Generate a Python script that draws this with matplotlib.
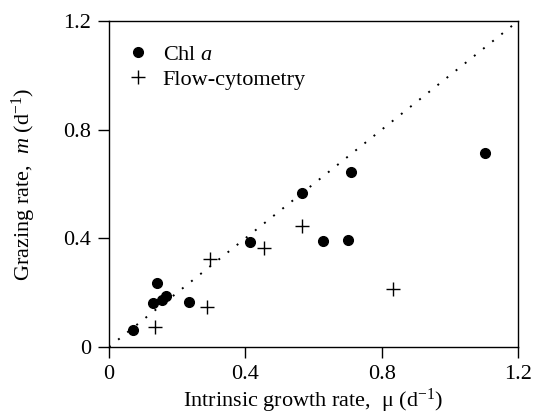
import matplotlib
matplotlib.use("Agg")
import matplotlib.pyplot as plt

plt.rcParams['font.family'] = ['Liberation Serif', 'DejaVu Serif']
plt.rcParams['mathtext.fontset'] = 'custom'
plt.rcParams['mathtext.rm'] = 'Liberation Serif'
plt.rcParams['mathtext.it'] = 'Liberation Serif:italic'

# Chl a
chl_mu = [0.070, 0.128, 0.142, 0.155, 0.166, 0.236, 0.413, 0.567, 0.628, 0.701, 0.709, 1.104]
chl_m = [0.063, 0.161, 0.234, 0.173, 0.188, 0.164, 0.385, 0.568, 0.389, 0.393, 0.643, 0.715]

# Flow-cytometry
fc_mu = [0.135, 0.288, 0.297, 0.455, 0.565, 0.833]
fc_m = [0.075, 0.146, 0.324, 0.365, 0.445, 0.215]

ticks = [0, 0.4, 0.8, 1.2]
tick_labels = ['0', '0.4', '0.8', '1.2']

fig = plt.figure(figsize=(5.33, 4.16), dpi=100)
ax = fig.add_axes([0.2045, 0.166, 0.7675, 0.7835])

ax.plot([0, 1.2], [0, 1.2], color='black', linestyle=(0, (1, 5)), linewidth=1.4)
ax.plot(chl_mu, chl_m, 'o', color='black', markersize=7, label='Chl $a$', linestyle='none')
ax.plot(fc_mu, fc_m, '+', color='black', markersize=10, markeredgewidth=1.0,
        label='Flow-cytometry', linestyle='none')

ax.set_xlim(0, 1.2)
ax.set_ylim(0, 1.2)
ax.set_xticks(ticks)
ax.set_xticklabels(tick_labels)
ax.set_yticks(ticks)
ax.set_yticklabels(tick_labels)
ax.tick_params(direction='out', length=8, width=1, labelsize=16, pad=5)
for s in ax.spines.values():
    s.set_linewidth(1)

ax.set_xlabel(r'Intrinsic growth rate,  μ (d$^{\mathrm{-1}}$)', fontsize=16, labelpad=2)
ax.set_ylabel(r'Grazing rate,  $m$ (d$^{\mathrm{-1}}$)', fontsize=16, labelpad=18)

ax.legend(loc='upper left', bbox_to_anchor=(0.017, 0.956), borderaxespad=0,
          frameon=False, fontsize=16, handletextpad=0.5,
          labelspacing=0.2, handlelength=1.2)

fig.savefig('out.png', dpi=100)
